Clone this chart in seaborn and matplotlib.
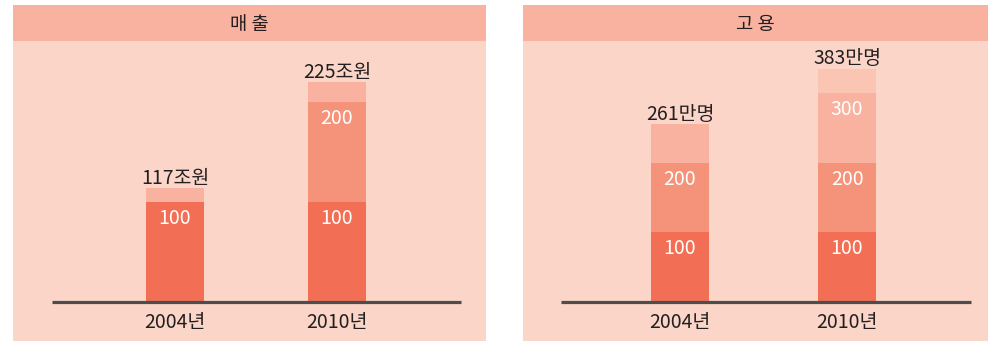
import matplotlib
matplotlib.use("Agg")
import matplotlib.pyplot as plt
import seaborn as sns
import pandas as pd

sns.set_theme(style="white")
plt.rcParams['font.family'] = ['Noto Sans CJK KR', 'DejaVu Sans']

# ---- data ----
years = ['2004년', '2010년']

sales_title = '매 출'
sales_total_labels = ['117조원', '225조원']
# drawn segment sizes (units), bottom to top
sales_seg1 = [100, 100]
sales_seg2 = [0, 100]
sales_seg3 = [14, 20]
sales_seg_labels = [[100], [100, 200]]

emp_title = '고 용'
emp_total_labels = ['261만명', '383만명']
emp_seg1 = [100, 100]
emp_seg2 = [100, 100]
emp_seg3 = [55, 100]
emp_seg4 = [0, 35]
emp_seg_labels = [[100, 200], [100, 200, 300]]

# ---- styling ----
C_DARK = '#F26F55'
C_MID = '#F5927A'
C_LIGHT = '#F8B29F'
C_LIGHTEST = '#FAC6B3'
C_BODY = '#FBD5C8'
C_HEAD = '#F8B29F'
C_TEXT = '#231F20'
seg_colors = [C_DARK, C_MID, C_LIGHT, C_LIGHTEST]

W, H = 988, 341
fig = plt.figure(figsize=(W / 100, H / 100), dpi=100)


def panel(x0, x1, title, segs, total_labels, seg_labels, scale, xl, bar_w, base_x):
    # header
    hax = fig.add_axes([x0 / W, (H - 41) / H, (x1 - x0) / W, 36 / H])
    hax.set_facecolor(C_HEAD)
    hax.set_xticks([]); hax.set_yticks([])
    for s in hax.spines.values():
        s.set_visible(False)
    hax.text(0.5, 0.47, title, ha='center', va='center', fontsize=13.5,
             color=C_TEXT, transform=hax.transAxes)

    ax = fig.add_axes([x0 / W, 0, (x1 - x0) / W, (H - 41) / H])
    ax.set_facecolor(C_BODY)
    # cumulative tops
    cums = []
    run = [0] * len(years)
    for s in segs:
        run = [r + v for r, v in zip(run, s)]
        cums.append(list(run))
    for cum, col in reversed(list(zip(cums, seg_colors))):
        df = pd.DataFrame({'year': years, 'v': cum})
        sns.barplot(data=df, x='year', y='v', order=years, color=col,
                    saturation=1, width=bar_w, linewidth=0, ax=ax)
    tops = cums[-1]
    for i, (lab, top) in enumerate(zip(total_labels, tops)):
        ax.annotate(lab, (i, top), xytext=(0, 3), textcoords='offset points',
                    ha='center', va='baseline', fontsize=14, color=C_TEXT)
        for sl in seg_labels[i]:
            ax.annotate(str(sl), (i, sl), xytext=(0, -12), textcoords='offset points',
                        ha='center', va='center', fontsize=14, color='white')
        ax.annotate(years[i], (i, 0), xytext=(0, -14.5), textcoords='offset points',
                    ha='center', va='center', fontsize=14, color=C_TEXT)
    ax.hlines(0, base_x[0], base_x[1], color='#4D4D4D', linewidth=2.3, zorder=5)
    ax.set_xlim(*xl)
    ax.set_ylim(-39 / scale, 261 / scale)
    ax.set_xticks([])
    ax.set_yticks([])
    ax.set_xlabel(''); ax.set_ylabel('')
    for s in ax.spines.values():
        s.set_visible(False)
    return ax


ax1 = panel(13, 486, sales_title, [sales_seg1, sales_seg2, sales_seg3],
            sales_total_labels, sales_seg_labels, 1.0,
            (-1.0, 1.92), 0.358, (-0.759, 1.765))
ax2 = panel(523, 988, emp_title, [emp_seg1, emp_seg2, emp_seg3, emp_seg4],
            emp_total_labels, emp_seg_labels, 0.697,
            (-0.940, 1.844), 0.347, (-0.713, 1.743))

fig.savefig('out.png', dpi=100)
